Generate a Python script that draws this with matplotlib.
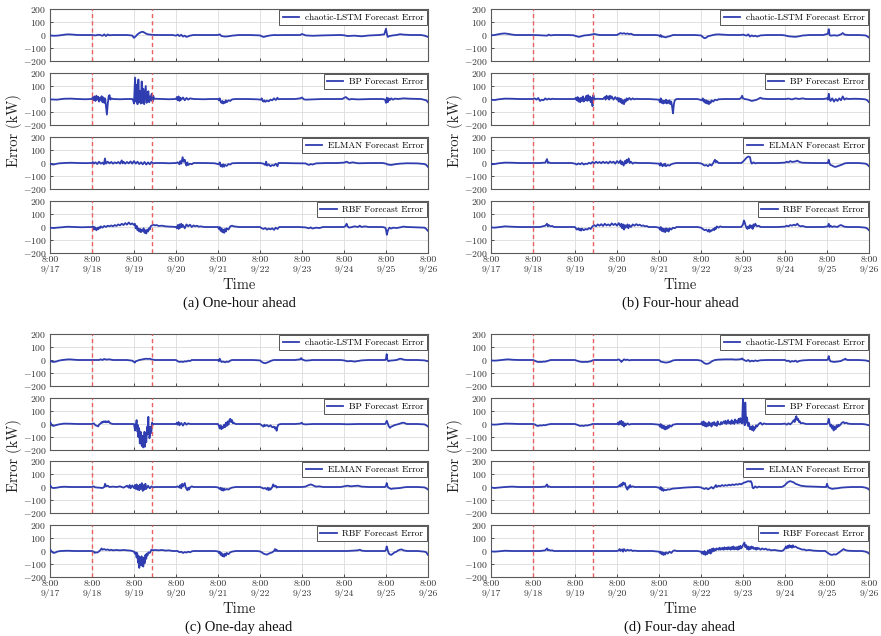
import numpy as np
import matplotlib
matplotlib.use("Agg")
import matplotlib.pyplot as plt

plt.rcParams.update({
    "font.family": "cmr10",
    "mathtext.fontset": "cm",
    "axes.formatter.use_mathtext": True,
    "axes.unicode_minus": True,
})

# ---------------------------------------------------------------- labels
day_ticks = [0, 24, 48, 72, 96, 120, 144, 168, 192, 216]   # hours since 9/17 8:00
day_labels = ["8:00\n9/17", "8:00\n9/18", "8:00\n9/19", "8:00\n9/20", "8:00\n9/21",
              "8:00\n9/22", "8:00\n9/23", "8:00\n9/24", "8:00\n9/25", "8:00\n9/26"]
err_ticks = [-200, -100, 0, 100, 200]
models = ["chaotic-LSTM", "BP", "ELMAN", "RBF"]
captions = ["(a) One-hour ahead", "(b) Four-hour ahead",
            "(c) One-day ahead", "(d) Four-day ahead"]
split_hours = [24, 58.5]

# ---------------------------------------------------------------- (a) one-hour ahead: (hour, error kW)
a_lstm = [(0,-3),(2,-6),(4,-5),(6,-2),(8,2),(10,5),(12,4),(14,2),(16,0),(20,0),(24,0),(26,-3),(28,2),
          (30,-6),(31,5),(32,-8),(33,4),(34,-2),(36,0),(40,0),(44,0),(47,-4),(48,-22),(49,-10),(50,5),
          (51,15),(52,22),(53,25),(54,18),(55,10),(56,5),(58,2),(60,0),(64,0),(70,0),(72,-5),(73,3),
          (74,-8),(75,2),(76,-12),(77,-5),(78,-15),(80,-5),(82,0),(86,0),(92,0),(96,0),(97,5),(98,-8),
          (100,-12),(102,-10),(104,-5),(108,0),(114,0),(120,-3),(121,-10),(122,-15),(123,-12),(124,-8),
          (126,-3),(128,0),(130,-1),(136,0),(143,0),(144,8),(146,-3),(150,-6),(156,-3),(166,0),(168,-2),
          (170,-8),(174,-5),(178,-10),(182,-4),(188,0),(191,5),(192,48),(192.5,10),(193,-15),(194,-8),
          (196,-3),(198,0),(200,6),(202,3),(206,0),(212,0),(214,-5),(216,-15)]
a_bp = [(0,-3),(4,-5),(8,2),(12,3),(16,0),(20,-2),(24,0),(24.5,15),(25,-10),(25.5,20),(26,-15),
        (26.5,25),(27,-5),(27.5,18),(28,-20),(28.5,10),(29,-10),(29.5,22),(30,-25),(30.5,12),(31,-30),
        (31.5,5),(32,-60),(32.5,-120),(33,-40),(33.5,20),(34,30),(34.5,-5),(35,5),(36,0),(40,-2),(44,0),
        (47,0),(47.5,-10),(48,-35),(48.6,165),(49.1,-20),(49.6,110),(50,-40),(50.5,150),(51,-25),
        (51.4,60),(51.9,-35),(52.4,135),(52.9,-30),(53.3,80),(53.8,-40),(54.2,20),(54.7,100),(55.2,-30),
        (55.7,30),(56.2,60),(56.7,-25),(57.2,20),(57.6,-10),(58.1,40),(58.6,-20),(59,25),(59.5,0),
        (60,2),(64,0),(68,-2),(72,0),(72.5,15),(73,-10),(73.5,20),(74,-15),(74.5,10),(75,-5),(76,12),
        (77,-10),(78,8),(79,-5),(80,5),(82,0),(88,-2),(92,0),(96,0),(96.5,-10),(97,5),(97.5,-20),
        (98,-30),(98.5,-15),(99,-35),(99.5,-20),(100,-30),(100.5,-10),(101,-25),(102,-10),(103,-15),
        (104,-3),(106,0),(112,0),(118,-2),(120.5,-5),(121,5),(121.5,-15),(122,-20),(122.5,-10),
        (123,-22),(124,-12),(125,-18),(126,-5),(127,-10),(128,5),(129,-8),(130,10),(130.5,-2),(132,0),
        (140,0),(143,5),(144,12),(145,-2),(146,-5),(150,-3),(156,0),(164,0),(167,0),(168,8),(169,15),
        (170,5),(171,-5),(172,0),(176,-3),(184,0),(190,0),(191.5,-5),(192,-30),(192.5,10),(193,-25),
        (193.5,5),(194,-10),(195,5),(196,-5),(197,3),(199,0),(202,5),(206,2),(212,0),(215,-10),(216,-25)]
a_elman = [(0,-5),(1,-10),(2,-12),(3,-8),(5,-3),(8,0),(12,2),(16,0),(20,-1),(24,0),(24.5,8),(25,-5),
           (26,5),(27,-8),(28,10),(29,-5),(30,3),(30.8,-10),(31.4,35),(32,-5),(33,10),(34,-3),(35,8),
           (36,-5),(37,5),(38,-2),(39,8),(40,-5),(41,20),(41.5,-3),(42,10),(43,-5),(44,8),(45,-3),
           (46,12),(47,-5),(48,15),(49,-5),(50,10),(51,-8),(52,5),(53,-10),(54,8),(55,-12),(56,5),
           (57,-10),(58,8),(59,-3),(60,0),(64,0),(68,-2),(72,0),(73,5),(74,-10),(74.5,15),(75,-5),
           (75.8,45),(76.3,10),(77,25),(77.5,-5),(78,-20),(78.5,5),(79,-15),(80,-5),(81,-10),(82,0),
           (88,0),(94,-2),(96.5,-10),(97,5),(97.5,-25),(98,-15),(98.5,-30),(99,-10),(99.5,-28),
           (100,-15),(101,-22),(102,-8),(103,-12),(104,-2),(108,0),(114,0),(120,0),(122,-5),(123,-15),
           (123.5,10),(124,-20),(125,-10),(126,-25),(127,-15),(128,-20),(129,-5),(130,-25),(130.5,0),
           (133,0),(140,-2),(146,-3),(147,-10),(148,-15),(149,-8),(150,-12),(152,-3),(158,0),(164,0),
           (168,3),(169.5,10),(171,0),(173,5),(176,-2),(184,0),(190,0),(192,-5),(193,-12),(195,-15),
           (197,-10),(200,-5),(204,-2),(210,-3),(214,-8),(215,-15),(216,-30)]
a_rbf = [(0,-5),(2,-8),(4,-5),(6,-3),(10,2),(14,0),(18,-2),(24,0),(24.5,5),(25,-20),(25.5,0),(26,-15),
         (26.5,-25),(27,-5),(27.5,-18),(28,-2),(28.5,-10),(29,5),(30,-5),(31,8),(32,0),(33,10),(34,5),
         (35,12),(36,5),(37,15),(38,8),(39,20),(40,12),(41,25),(42,15),(43,30),(44,18),(45,35),
         (46,20),(47,28),(48,15),(48.5,25),(49,-10),(49.5,10),(50,-25),(50.5,-10),(51,-35),(51.5,-15),
         (52,-40),(52.5,-20),(53,-30),(53.5,-10),(54,-45),(54.5,-25),(55,-50),(55.5,-20),(56,-35),
         (56.5,-10),(57,-20),(57.5,5),(58,10),(59,18),(60,12),(61,15),(62,8),(64,10),(66,5),(68,3),
         (70,2),(72,0),(72.5,-10),(73,15),(73.5,-15),(74,20),(74.5,-5),(75,25),(75.5,0),(76,15),
         (77,-10),(78,20),(79,5),(80,18),(81,0),(82,12),(83,5),(84,10),(85,2),(86,5),(88,0),(92,0),
         (96,0),(96.5,-15),(97,0),(97.5,-30),(98,-10),(98.5,-40),(99,-20),(99.5,-45),(100,-15),
         (100.5,-35),(101,-10),(102,-20),(103,5),(104,10),(105,5),(108,0),(114,0),(120,0),(121,-10),
         (122,-15),(123,-8),(124,-20),(125,-12),(126,-18),(127,-10),(128,-22),(129,-5),(130,-15),
         (131,0),(136,0),(142,0),(146,-3),(148,-10),(149,-3),(150,-12),(152,-5),(154,-8),(156,0),
         (162,0),(168,0),(169,10),(169.5,25),(170,5),(171,-5),(172,-2),(174,5),(176,0),(177,10),
         (178,0),(180,5),(182,0),(186,0),(190,0),(191.5,-5),(192,-20),(192.5,-60),(193,-30),
         (193.5,-15),(194,-5),(195,-12),(196,-5),(198,-8),(200,-3),(202,3),(204,0),(210,-3),
         (214,-5),(215,-15),(216,-30)]

# ---------------------------------------------------------------- (b) four-hour ahead
b_lstm = [(0,-3),(2,0),(4,5),(6,10),(8,12),(10,8),(12,3),(14,0),(20,0),(24,0),(28,-2),(32,-5),(33,3),
          (34,-3),(36,0),(44,0),(47,-2),(49,-10),(50,-14),(51,-12),(52,-8),(53,-4),(56,0),(58,5),
          (59,8),(60,5),(62,0),(68,0),(72,0),(73,8),(74,15),(75,10),(76,14),(77,8),(78,12),(79,6),
          (80,10),(81,3),(82,0),(88,0),(94,0),(96,-3),(96.5,-12),(97,0),(97.5,-15),(98,-10),(99,-16),
          (100,-18),(101,-12),(102,-10),(103,-5),(104,0),(108,0),(116,0),(120,-3),(121,-15),(122,-25),
          (123,-20),(124,-10),(126,-3),(128,3),(130,5),(132,3),(136,0),(143,0),(144,3),(146,-5),
          (147,5),(148,-12),(149,-3),(150,-10),(151,-5),(152,-12),(154,-3),(158,0),(166,0),(168,-3),
          (170,-10),(172,-12),(174,-14),(176,-10),(178,-4),(182,0),(190,0),(192.5,10),(193,45),
          (193.5,0),(194,-5),(196,-2),(198,-5),(200,5),(201,15),(202,3),(204,0),(210,0),(214,-3),
          (215,-10),(216,-20)]
b_bp = [(0,-5),(2,-8),(4,-3),(8,3),(12,2),(16,0),(24,0),(25,5),(26,-5),(27,8),(28,-15),(29,-5),
        (30,-10),(31,5),(32,-5),(33,3),(34,-3),(35,2),(36,0),(44,0),(48,0),(48.5,10),(49,-10),
        (49.5,15),(50,-20),(50.5,5),(51,-25),(51.5,10),(52,-15),(52.5,20),(53,-20),(53.5,5),(54,-10),
        (54.5,25),(55,-15),(55.5,30),(56,-10),(56.5,20),(57,-25),(57.5,10),(58,-55),(58.5,30),
        (59,-5),(60,2),(64,0),(65,15),(65.5,-5),(66,25),(66.5,5),(67,20),(67.5,-5),(68,25),(68.5,5),
        (69,20),(70,-5),(71,15),(72,-5),(72.5,10),(73,-20),(73.5,5),(74,-25),(74.5,0),(75,-35),
        (75.5,-10),(76,-40),(76.5,-5),(77,-20),(77.5,5),(78,-10),(79,8),(80,-5),(81,5),(82,-3),
        (83,2),(84,0),(90,0),(96,-5),(96.5,-25),(97,5),(97.5,-30),(98,-10),(98.5,-35),(99,-15),
        (99.5,-30),(100,-5),(100.5,-35),(101,-15),(101.5,-30),(102,-10),(102.5,-40),(103,-20),
        (103.5,-60),(104,-110),(104.5,-40),(105,-10),(106,0),(112,0),(118,0),(120.5,-10),(121,5),
        (121.5,-20),(122,-5),(122.5,-30),(123,-10),(123.5,-35),(124,-15),(124.5,-40),(125,-20),
        (125.5,-30),(126,-10),(127,-20),(128,-5),(129,-10),(130,-2),(134,0),(140,0),(142,0),
        (143,10),(143.5,25),(144,5),(145,0),(147,-5),(148,-10),(149,-15),(150,-12),(152,-5),
        (153,3),(154,10),(155,3),(158,0),(164,0),(168,0),(170,3),(172,-3),(174,5),(176,0),(178,5),
        (180,0),(186,0),(190,0),(192,5),(192.5,-5),(193,40),(193.5,0),(194,-15),(195,5),(196,-20),
        (197,0),(198,-15),(199,5),(200,-10),(201,20),(202,-5),(203,5),(204,0),(208,2),(212,0),
        (214,-3),(215,-10),(216,-25)]
b_elman = [(0,-5),(1,-10),(2,-8),(4,-3),(8,3),(12,2),(16,0),(24,0),(28,0),(31,3),(32,30),(32.5,0),
           (33,5),(34,0),(40,0),(46,0),(48,-5),(49,-12),(50,-3),(51,-10),(52,0),(53,-12),(54,-5),
           (55,-8),(56,2),(57,-5),(58,8),(59,-3),(60,10),(61,0),(62,8),(63,-2),(64,10),(65,0),(66,8),
           (67,-3),(68,12),(69,2),(70,10),(71,-5),(72,15),(73,0),(74,20),(74.5,-10),(75,10),
           (75.8,-20),(76.5,15),(77,-5),(77.5,25),(78,5),(78.7,35),(79.3,0),(80,10),(81,-5),(82,3),
           (84,0),(90,0),(96,-5),(96.5,-20),(97,0),(97.5,-15),(98,-25),(98.5,-10),(99,-20),(99.5,-5),
           (100,-25),(101,-15),(102,-20),(103,-10),(104,-5),(106,0),(112,0),(118,0),(120,-3),
           (121,-10),(122,-20),(123,-15),(124,-25),(125,-10),(126,-20),(127,0),(127.5,15),(128,25),
           (128.5,5),(129,15),(130,0),(134,0),(140,0),(143,0),(144,10),(145,25),(146,40),(147,50),
           (148,45),(148.5,10),(149,-5),(150,5),(151,-3),(152,0),(158,0),(164,0),(168,3),(169,10),
           (170,5),(171,15),(172,8),(174,12),(175,18),(176,10),(177,5),(178,2),(184,0),(190,0),
           (192.5,0),(193,25),(193.5,-5),(194,-15),(195,-20),(196,-28),(197,-30),(198,-25),(199,-20),
           (200,-15),(201,-10),(202,-3),(204,0),(210,0),(214,-5),(215,-12),(216,-25)]
b_rbf = [(0,-3),(2,-5),(4,-2),(8,5),(12,2),(16,0),(24,0),(28,0),(31,10),(32,25),(32.5,5),(33,15),
         (34,5),(35,8),(36,0),(44,0),(48,0),(48.5,-10),(49,-20),(50,-10),(50.5,-25),(51,-15),
         (51.5,-28),(52,-12),(53,-25),(54,-15),(55,-20),(56,-8),(57,-15),(58,5),(59,15),(60,5),
         (61,20),(62,10),(63,22),(64,8),(65,25),(66,12),(67,20),(68,10),(69,28),(70,15),(71,25),
         (72,10),(73,30),(74,5),(74.5,25),(75,-10),(75.5,20),(76,-20),(76.5,15),(77,-5),(78,20),
         (78.5,-10),(79,15),(80,0),(81,20),(82,10),(83,22),(84,12),(85,18),(86,8),(87,12),(88,5),
         (89,8),(90,0),(94,0),(96,-5),(96.5,-20),(97,0),(97.5,-30),(98,-10),(98.5,-35),(99,-15),
         (99.5,-40),(100,-10),(100.5,-30),(101,-15),(101.5,-35),(102,-10),(103,-20),(104,-5),
         (105,-10),(106,0),(112,0),(118,0),(120,-5),(121,-15),(122,-25),(123,-20),(124,-35),
         (124.5,-20),(125,-38),(125.5,-25),(126,-30),(127,-15),(127.5,-25),(128,-5),(128.5,-15),
         (129,5),(130,-5),(131,5),(132,0),(140,0),(143,0),(144,20),(144.5,50),(145,35),(145.5,10),
         (146,-5),(146.5,-15),(147,5),(147.5,-10),(148,15),(148.5,-5),(149,10),(149.5,-15),(150,20),
         (150.5,5),(151,25),(152,5),(153,10),(154,0),(158,0),(164,0),(168,3),(169,10),(170,5),
         (171,15),(172,10),(173,18),(174,12),(175,25),(176,10),(177,5),(178,8),(180,0),(186,0),
         (190,0),(192.5,5),(193,25),(193.5,0),(194,10),(195,0),(196,5),(198,0),(199,10),(200,15),
         (201,8),(202,2),(204,0),(210,0),(214,-5),(215,-12),(216,-25)]

# ---------------------------------------------------------------- (c) one-day ahead
c_lstm = [(0,-5),(1,-12),(2,-15),(3,-13),(4,-10),(5,-5),(7,0),(9,3),(11,5),(13,3),(16,0),(24,0),
          (28,0),(29,5),(30,0),(31,8),(32,3),(34,5),(36,0),(44,0),(47,-5),(48,-15),(48.5,-20),
          (49,-10),(50,-5),(51,0),(53,5),(54,8),(55,10),(56,8),(57,10),(58,5),(60,0),(66,0),(72,0),
          (72.5,-5),(73,-10),(74,-15),(75,-12),(76,-15),(77,-10),(78,-12),(79,-5),(80,-8),(81,0),
          (86,0),(92,0),(96,0),(96.5,-10),(97,10),(97.5,-5),(98,-15),(99,-12),(100,-18),(101,-12),
          (102,-15),(103,-5),(104,0),(108,0),(116,0),(120,-3),(121,-15),(122,-22),(123,-25),
          (124,-20),(125,-15),(126,-8),(127,-3),(128,0),(132,0),(140,0),(143,5),(143.5,15),(144,5),
          (145,0),(146,-5),(148,-3),(150,0),(160,0),(166,0),(168,-3),(170,-10),(172,-8),(174,-12),
          (176,-8),(178,-3),(182,0),(190,0),(191.5,0),(192,10),(192.4,45),(192.8,0),(193.5,-10),
          (194,-5),(196,-3),(198,0),(199,5),(200,10),(201,8),(202,3),(204,0),(210,0),(214,-3),
          (216,-10)]
c_bp = [(0,15),(0.5,5),(1,-10),(2,-15),(3,-10),(5,-3),(8,3),(12,2),(16,0),(24,0),(25,5),(26,-10),
        (27,-15),(27.6,-18),(28,-5),(29,5),(29.5,15),(30,10),(30.5,20),(31,15),(31.5,22),(32,12),
        (32.5,20),(33,15),(33.5,22),(34,10),(35,3),(36,0),(44,0),(47,0),(48,0),(48.6,-50),(49,-10),
        (49.5,30),(49.8,-20),(50,-60),(50.3,-10),(50.5,-100),(50.8,-30),(51,-40),(51.3,-150),
        (51.5,-130),(51.8,-60),(52,-80),(52.3,-160),(52.5,-170),(52.8,-90),(53,-110),(53.3,-180),
        (53.6,-100),(53.8,-120),(54,-60),(54.2,-175),(54.5,-70),(54.7,-90),(55,-140),(55.2,-100),
        (55.4,-40),(55.6,-20),(55.9,-80),(56.2,55),(56.4,-60),(56.6,-30),(56.8,-110),(57.1,-90),
        (57.3,-20),(57.6,-50),(57.8,-70),(58.1,-40),(58.3,10),(58.6,-10),(59,0),(60,0),(66,0),
        (72,0),(72.5,10),(73,-5),(73.5,15),(74,-10),(75,8),(76,-12),(77,10),(78,-5),(79,5),(80,0),
        (84,0),(92,0),(96,0),(96.5,-15),(97,-35),(97.5,-10),(98,-40),(98.5,-20),(99,-30),(99.5,-5),
        (100,-25),(100.5,10),(101,-15),(101.5,20),(102,-5),(102.5,30),(103,40),(103.5,15),(104,30),
        (104.5,5),(105,10),(106,0),(112,0),(118,0),(120,0),(121,-10),(122,-20),(122.5,-5),
        (123,-15),(124,-8),(125,-20),(126,-10),(127,-25),(128,-20),(128.5,-35),(129,-25),
        (129.5,-52),(130,-20),(130.5,-5),(132,0),(140,0),(143,3),(143.8,10),(144.5,0),(146,-3),
        (150,0),(160,0),(166,0),(170,-2),(176,0),(186,0),(190,0),(191.5,0),(192,10),(192.4,25),
        (193,5),(193.5,-15),(194.3,-30),(195,-20),(196,-15),(197,-8),(198,-5),(200,3),(201,8),
        (202,10),(203,5),(204,0),(210,0),(214,-3),(215,-10),(216,-20)]
c_elman = [(0,15),(0.5,5),(1,-5),(2,-8),(4,-5),(6,0),(8,2),(12,0),(16,0),(24,0),(25,5),(26,-3),
           (28,-5),(30,-8),(31,0),(31.5,25),(32,5),(33,10),(34,0),(36,3),(38,0),(40,5),(42,-5),
           (44,10),(45,-5),(45.5,15),(46,-10),(47,12),(48,-8),(48.5,15),(49,-15),(49.5,20),(50,-20),
           (50.5,10),(51,-25),(51.5,20),(52,-15),(52.5,30),(53,-30),(53.5,15),(54,-20),(54.5,25),
           (55,-15),(56,10),(57,-10),(58,5),(59,-3),(60,0),(66,0),(72,0),(73,5),(74,-5),(74.5,15),
           (75,-10),(75.5,25),(76,5),(77,30),(77.5,0),(78,-15),(78.5,-25),(79,-5),(79.5,-20),(80,-3),
           (81,5),(82,0),(88,0),(94,0),(96,-3),(97,-15),(97.5,-5),(98,-25),(98.5,-10),(99,-28),
           (99.5,-12),(100,-22),(101,-15),(102,-20),(103,-10),(104,-5),(106,0),(114,0),(120,0),
           (121,-5),(122,-12),(123,-8),(124,-20),(124.5,-5),(125,-25),(125.5,-10),(126,-20),(127,0),
           (127.6,20),(128,5),(129,10),(129.5,-5),(130,0),(136,0),(144,0),(146,3),(147,10),(148,15),
           (149,20),(150,15),(151,8),(152,3),(154,5),(156,0),(162,0),(166,0),(168,5),(170,10),
           (172,5),(174,8),(176,10),(178,3),(182,0),(190,0),(191.5,0),(192,10),(192.4,30),(193,0),
           (194,-10),(195,-15),(196,-12),(198,-10),(200,-8),(202,-3),(204,0),(210,0),(214,-3),
           (215,-10),(216,-20)]
c_rbf = [(0,10),(0.5,5),(1,-5),(2,-15),(3,-12),(4,-5),(6,0),(10,2),(14,0),(20,0),(24,0),(25,-5),
         (25.5,-15),(26,-10),(27,-12),(28,-3),(29,10),(29.5,20),(30,10),(31,15),(32,8),(33,12),
         (34,5),(35,10),(36,5),(38,8),(40,5),(42,8),(44,5),(46,3),(47,0),(48,-5),(48.5,-20),
         (49,-10),(49.5,-50),(49.8,-15),(50,-30),(50.3,-90),(50.5,-80),(50.8,-40),(51,-130),
         (51.3,-50),(51.5,-60),(51.8,-110),(52,-100),(52.3,-40),(52.5,-70),(52.8,-115),(53,-90),
         (53.3,-120),(53.6,-50),(53.8,-60),(54,-95),(54.2,-80),(54.5,-30),(54.7,-40),(55,-60),
         (55.2,-20),(55.7,-35),(56.2,-10),(57,-15),(58,10),(59,5),(60,8),(62,5),(64,8),(66,3),
         (68,5),(70,0),(72,0),(73,0),(74,-10),(75,-5),(76,-15),(77,-8),(78,-12),(79,-5),(80,-10),
         (81,-3),(82,0),(88,0),(94,0),(96,-3),(96.5,-15),(97,-5),(97.5,-30),(98,-15),(98.5,-40),
         (99,-25),(99.5,-44),(100,-20),(100.5,-35),(101,-15),(102,-25),(103,-10),(104,-5),(106,0),
         (112,0),(118,0),(120,-3),(121,-10),(122,-20),(123,-25),(124,-28),(125,-20),(126,-15),
         (127,-10),(128,0),(128.6,15),(129,0),(129.5,10),(130,0),(134,0),(140,0),(150,0),(160,0),
         (166,0),(170,0),(174,3),(176,5),(177,10),(178,3),(180,0),(186,0),(190,0),(191.5,0),
         (192,10),(192.4,35),(193,5),(193.5,-15),(194,-25),(195,-30),(196,-20),(197,-10),(198,-5),
         (199,5),(200,10),(201,12),(202,5),(204,0),(210,0),(214,-5),(215,-10),(216,-30)]

# ---------------------------------------------------------------- (d) four-day ahead
d_lstm = [(0,-3),(2,-5),(4,-3),(8,3),(10,5),(12,2),(16,0),(24,0),(25,-5),(26,-12),(27,-15),(28,-14),
          (29,-15),(30,-12),(31,-13),(32,-8),(33,-5),(34,0),(36,0),(44,0),(48,0),(49,-5),(50,-10),
          (51,-13),(52,-15),(53,-15),(54,-14),(55,-15),(56,-12),(57,-10),(58,-3),(59,0),(64,0),
          (70,0),(72,0),(73,5),(74,-5),(74.5,-15),(75,-8),(76,5),(77,0),(78,3),(79,-3),(80,0),(84,0),
          (92,0),(96,0),(96.5,-5),(97,-12),(98,-15),(99,-18),(100,-20),(101,-18),(102,-15),(103,-10),
          (104,-3),(106,0),(114,0),(118,0),(120,-5),(121,-15),(122,-25),(123,-30),(124,-28),
          (125,-22),(126,-12),(127,-5),(128,0),(130,3),(134,5),(138,5),(140,3),(142,5),(143,8),
          (143.5,12),(144,5),(145,-3),(146,-8),(147,0),(148,-12),(149,-5),(150,-10),(151,-3),
          (152,-8),(154,-2),(158,0),(164,0),(168,0),(169,-8),(170,-5),(171,-15),(172,-8),(173,-12),
          (174,-5),(175,-15),(176,-8),(178,-3),(182,0),(190,0),(192,0),(192.5,5),(193,30),(193.5,0),
          (194,-10),(196,-15),(198,-12),(200,-8),(201,0),(202,5),(202.5,10),(203,3),(204,0),(210,0),
          (214,-3),(216,-10)]
d_bp = [(0,-3),(2,-5),(4,-3),(8,3),(12,2),(16,0),(24,0),(25,-3),(26,-12),(27,-15),(28,-10),(29,-12),
        (30,-8),(31,-10),(32,-5),(33,-3),(34,0),(40,0),(48,0),(49,-5),(50,-10),(51,-15),(52,-12),
        (53,-15),(54,-10),(55,-12),(56,-8),(57,-5),(58,0),(64,0),(70,0),(72,0),(72.5,10),(73,-5),
        (73.5,20),(74,0),(74.5,25),(75,-10),(75.5,15),(76,-20),(76.5,5),(77,-10),(78,5),(79,-5),
        (80,0),(84,0),(92,0),(96,-5),(96.5,-20),(97,0),(97.5,-30),(98,-10),(98.5,-35),(99,-15),
        (99.5,-42),(100,-20),(100.5,-38),(101,-15),(101.5,-30),(102,-10),(103,-20),(104,-5),
        (105,-3),(106,0),(112,0),(118,0),(120,0),(120.5,15),(121,-10),(121.5,20),(122,-15),
        (122.5,10),(123,-20),(123.5,5),(124,-15),(124.5,15),(125,-10),(125.5,5),(126,-20),
        (126.5,10),(127,-5),(127.5,15),(128,-10),(128.5,5),(129,-15),(129.5,20),(130,0),(131,-5),
        (131.5,15),(132,0),(133,20),(133.5,5),(134,25),(134.5,0),(135,10),(135.5,30),(136,5),
        (136.5,15),(137,0),(137.5,30),(138,5),(138.5,20),(139,0),(139.5,35),(140,10),(140.5,25),
        (141,5),(141.5,40),(142,10),(142.5,45),(143,10),(143.5,5),(144,197),(144.5,20),(145,-10),
        (145.3,165),(145.8,10),(146.3,50),(146.8,-15),(147.3,10),(148,-40),(148.5,-20),(149,-45),
        (149.5,-15),(150,-52),(150.5,-25),(151,-35),(151.5,-10),(152,-20),(153,0),(154,10),
        (155,-5),(156,5),(157,0),(160,0),(166,0),(168,3),(169,-5),(170,5),(171,-3),(172,10),
        (173,30),(173.5,15),(174,45),(174.5,60),(175,30),(175.5,40),(176,15),(176.5,20),(177,5),
        (178,8),(180,0),(186,0),(190,0),(192,0),(192.5,10),(193,40),(193.5,5),(194,-20),(194.5,-5),
        (195,-35),(195.5,-15),(195.8,-50),(196.3,-20),(197,-40),(197.5,-10),(198,-25),(198.5,-5),
        (199,-15),(200,0),(200.5,10),(201.5,15),(202,5),(203,10),(204,3),(206,0),(212,0),(214,-3),
        (216,-10)]
d_elman = [(0,-3),(2,-8),(4,-5),(8,0),(12,3),(16,0),(24,0),(28,0),(31,3),(32,20),(32.5,0),(33,5),
           (34,0),(40,0),(48,0),(58,0),(66,0),(72,0),(73,5),(73.5,15),(74,5),(74.5,25),(75,10),
           (75.5,35),(76,20),(76.5,30),(77,5),(77.5,-10),(78,-20),(78.5,5),(79,-5),(79.5,15),(80,0),
           (81,5),(82,0),(88,0),(94,0),(96,-5),(96.5,-15),(97,0),(97.5,-25),(98,-10),(98.5,-30),
           (99,-20),(100,-25),(101,-18),(102,-20),(103,-15),(104,-12),(106,-10),(108,-8),(110,-5),
           (114,-2),(118,0),(120,-3),(121,-10),(122,-15),(123,-8),(124,-18),(125,-10),(126,0),
           (127,-12),(128,5),(128.5,15),(129,0),(130,10),(131,5),(132,15),(133,8),(134,15),(135,10),
           (136,18),(137,12),(138,20),(139,15),(140,22),(141,18),(142,25),(143,20),(144,30),(145,35),
           (146,40),(147,45),(148,42),(148.5,45),(149,30),(149.5,-5),(150,-10),(151,5),(152,-5),
           (153,3),(154,0),(158,0),(164,0),(166,0),(167,5),(168,15),(169,30),(170,40),(171,45),
           (172,40),(173,35),(174,25),(175,20),(176,15),(177,10),(178,8),(180,5),(184,3),(190,0),
           (191.5,0),(192,25),(192.5,5),(193,-5),(194,-10),(195,-15),(196,-12),(198,-10),(200,-5),
           (202,-3),(206,0),(212,0),(214,-5),(215,-10),(216,-20)]
d_rbf = [(0,-3),(2,-5),(4,-3),(8,2),(12,0),(16,0),(24,0),(28,0),(31,5),(32,20),(32.5,5),(33,10),
         (34,3),(35,5),(36,0),(44,0),(52,0),(60,0),(66,0),(72,0),(73,5),(73.5,15),(74,0),(75,12),
         (75.5,-5),(76,15),(77,0),(78,10),(79,3),(80,8),(81,0),(82,3),(84,0),(92,0),(96,-5),
         (96.5,-15),(97,-5),(97.5,-25),(98,-10),(98.5,-30),(99,-15),(99.5,-28),(100,-10),(101,-20),
         (102,-5),(103,-15),(104,0),(105,5),(106,0),(112,0),(118,0),(120,-5),(120.5,-20),(121,-5),
         (121.5,-25),(122,0),(122.5,-30),(123,-10),(123.5,-25),(124,5),(124.5,-15),(125,10),
         (125.5,-20),(126,15),(126.5,-5),(127,20),(127.5,0),(128,15),(128.5,5),(129,20),(130,10),
         (130.5,25),(131,10),(131.5,22),(132,12),(132.5,25),(133,10),(133.5,28),(134,15),(134.5,25),
         (135,12),(135.5,30),(136,15),(136.5,28),(137,10),(137.5,30),(138,15),(138.5,35),(139,12),
         (139.5,28),(140,15),(140.5,30),(141,10),(141.5,35),(142,15),(142.5,40),(143,20),(143.5,30),
         (144,45),(144.8,65),(145.3,30),(145.8,45),(146.3,15),(146.8,35),(147.3,10),(147.8,30),
         (148.3,15),(148.8,35),(149.3,20),(149.8,30),(150.3,15),(151,25),(151.5,10),(152,25),
         (152.5,15),(153,22),(154,10),(155,20),(156,12),(157,18),(158,8),(159,12),(160,5),(162,8),
         (164,3),(166,0),(167,5),(168,20),(168.5,35),(169,20),(169.5,40),(170,25),(170.5,45),
         (171,30),(171.5,40),(172,25),(172.5,44),(173,30),(174,35),(175,25),(176,20),(177,15),
         (178,10),(179,12),(180,5),(182,8),(184,3),(188,0),(191,0),(192,-10),(193,-20),(194,-28),
         (195,-30),(196,-25),(197,-28),(198,-20),(199,-10),(200,0),(201,10),(201.5,15),(202,10),
         (203,5),(204,2),(208,0),(212,0),(214,-5),(215,-10),(216,-20)]

panels = [[a_lstm, a_bp, a_elman, a_rbf],
          [b_lstm, b_bp, b_elman, b_rbf],
          [c_lstm, c_bp, c_elman, c_rbf],
          [d_lstm, d_bp, d_elman, d_rbf]]

# ---------------------------------------------------------------- layout (pixels)
W, H = 881, 636
fig = plt.figure(figsize=(W / 100, H / 100), dpi=100)

panel_left = [50, 491, 50, 491]
panel_tops = [[9, 73, 137, 201], [9, 73, 137, 201],
              [334, 398, 461, 525], [334, 398, 461, 525]]
ax_w, ax_h = 378, 52

LINE = "#2f3db0"
SPLIT = "#ea5f5f"

for p, series_list in enumerate(panels):
    left = panel_left[p]
    for k, series in enumerate(series_list):
        top = panel_tops[p][k]
        ax = fig.add_axes([left / W, 1 - (top + ax_h) / H, ax_w / W, ax_h / H])
        arr = np.array(series, dtype=float)
        ax.plot(arr[:, 0], arr[:, 1], color=LINE, lw=1.3,
                label=f"{models[k]} Forecast Error", zorder=3)
        for s in split_hours:
            ax.axvline(s, color=SPLIT, lw=1.0, ls=(0, (3, 2.2)), zorder=4)
        ax.set_xlim(0, 216)
        ax.set_ylim(-200, 200)
        ax.set_yticks(err_ticks)
        ax.set_xticks(day_ticks)
        ax.grid(True, color="#dcdcdc", lw=0.6, zorder=0)
        ax.tick_params(direction="in", length=2.5, width=0.6, labelsize=7.0, pad=2.5,
                       colors="#333333")
        ax.tick_params(axis="x", pad=2)
        for sp in ax.spines.values():
            sp.set_color("#5a5a5a")
            sp.set_linewidth(0.8)
        if k == 3:
            ax.set_xticklabels(day_labels, linespacing=1.15)
        else:
            ax.set_xticklabels([])
        leg = ax.legend(loc="upper right", fontsize=6.6, frameon=True, fancybox=False,
                        borderaxespad=0.15, handlelength=1.8, handletextpad=0.6,
                        borderpad=0.35, framealpha=1)
        leg.get_frame().set_edgecolor("#555555")
        leg.get_frame().set_linewidth(0.7)

    cx = left + ax_w / 2
    t0 = panel_tops[p][0]
    t3 = panel_tops[p][3] + ax_h
    fig.text((left - 36) / W, 1 - (t0 + t3) / 2 / H, "Error (kW)", rotation=90,
             ha="center", va="center", fontsize=10.5, color="#222222")
    fig.text(cx / W, 1 - (t3 + 32) / H, "Time", ha="center", va="center",
             fontsize=10.5, color="#222222")
    fig.text(cx / W, 1 - (t3 + 50) / H, captions[p], ha="center", va="center",
             fontsize=10.5, family="Liberation Serif", color="#111111")

fig.savefig("out.png", dpi=100)
